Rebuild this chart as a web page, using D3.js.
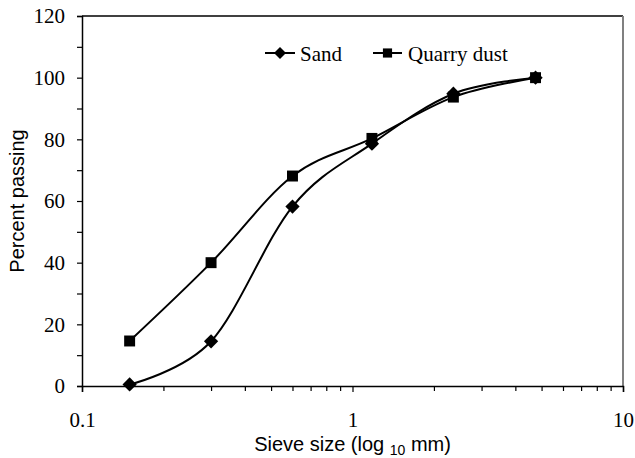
<!DOCTYPE html>
<html>
<head>
<meta charset="utf-8">
<script src="https://cdn.jsdelivr.net/npm/d3@7"></script>
<style>
  html, body { margin: 0; padding: 0; background: #fff; }
  svg { display: block; }
</style>
</head>
<body>
<svg id="chart" width="635" height="458"></svg>
<script>
// Sieve sizes (mm) and percent passing for each material
const sieveSizes = [0.15, 0.3, 0.6, 1.18, 2.36, 4.75];
const sandPassing = [0.5, 14.5, 58.2, 78.6, 94.8, 100];
const quarryDustPassing = [14.6, 40, 68.1, 80.3, 93.7, 100];
const seriesNames = ["Sand", "Quarry dust"];
const yTicks = [0, 20, 40, 60, 80, 100, 120];
const yMinorTicks = [10, 30, 50, 70, 90, 110];
const xTicks = [0.1, 1, 10];

const svg = d3.select("#chart");
const margin = { left: 82, top: 16, right: 623, bottom: 386 };

const x = d3.scaleLog().domain([0.1, 10]).range([margin.left, margin.right]);
const y = d3.scaleLinear().domain([0, 120]).range([margin.bottom, margin.top]);

const serif = "'Liberation Serif', 'Times New Roman', serif";
const sans = "'Liberation Sans', Arial, sans-serif";

// Plot frame: top edge black, right edge grey
svg.append("line")
  .attr("x1", x(0.1)).attr("x2", x(10))
  .attr("y1", y(120)).attr("y2", y(120))
  .attr("stroke", "#000").attr("stroke-width", 1.5);
svg.append("line")
  .attr("x1", x(10)).attr("x2", x(10))
  .attr("y1", y(120)).attr("y2", y(0))
  .attr("stroke", "#808080").attr("stroke-width", 2);

// Y axis
const yAxis = svg.append("g").attr("transform", `translate(${margin.left},0)`);
yAxis.call(d3.axisLeft(y).tickValues(yTicks).tickSize(5).tickPadding(12).tickFormat(d3.format("d")));
yAxis.append("g").call(d3.axisLeft(y).tickValues(yMinorTicks).tickSize(5).tickFormat(""));
yAxis.selectAll("path.domain").attr("stroke-width", 1.5);
yAxis.selectAll("g > g > path.domain").remove();
yAxis.selectAll("line").attr("stroke-width", 1.2);
yAxis.selectAll("text")
  .attr("font-family", serif).attr("font-size", 21).attr("fill", "#000");

// X axis (log) with minor ticks at each decade subdivision
const xMinor = [];
[0.1, 1].forEach(d => { for (let k = 2; k <= 9; k++) xMinor.push(+(d * k).toFixed(2)); });
const xAxis = svg.append("g").attr("transform", `translate(0,${margin.bottom})`);
xAxis.call(d3.axisBottom(x).tickValues(xTicks).tickSize(6).tickPadding(20).tickFormat(d => String(d)));
xAxis.append("g").call(d3.axisBottom(x).tickValues(xMinor).tickSize(5).tickFormat(""));
xAxis.selectAll("path.domain").attr("stroke-width", 1.5);
xAxis.selectAll("g > g > path.domain").remove();
xAxis.selectAll("line").attr("stroke-width", 1.2);
xAxis.selectAll("text")
  .attr("font-family", serif).attr("font-size", 21).attr("fill", "#000");

// Axis titles
svg.append("text")
  .attr("transform", `translate(24,${(margin.top + margin.bottom) / 2}) rotate(-90)`)
  .attr("text-anchor", "middle")
  .attr("font-family", sans).attr("font-size", 20)
  .text("Percent passing");

const xTitle = svg.append("text")
  .attr("x", (margin.left + margin.right) / 2).attr("y", 451)
  .attr("text-anchor", "middle")
  .attr("font-family", sans).attr("font-size", 20);
xTitle.append("tspan").text("Sieve size (log ");
xTitle.append("tspan").attr("font-size", 14).attr("dy", 4).text("10");
xTitle.append("tspan").attr("dy", -4).text(" mm)");

// Series lines (smoothed) and markers
const line = d3.line()
  .x(d => x(d[0])).y(d => y(d[1]))
  .curve(d3.curveCatmullRom.alpha(0));

const series = [
  { name: seriesNames[0], values: sandPassing, marker: d3.symbolDiamond2, size: 130 },
  { name: seriesNames[1], values: quarryDustPassing, marker: d3.symbolSquare, size: 120 }
];

const plot = svg.append("g");
series.forEach(s => {
  const pts = sieveSizes.map((d, i) => [d, s.values[i]]);
  plot.append("path")
    .datum(pts)
    .attr("d", line)
    .attr("fill", "none").attr("stroke", "#000").attr("stroke-width", 2);
  plot.selectAll(null)
    .data(pts).enter().append("path")
    .attr("transform", d => `translate(${x(d[0])},${y(d[1])})`)
    .attr("d", d3.symbol().type(s.marker).size(s.size))
    .attr("fill", "#000");
});

// Legend
const legendItems = [
  { s: series[0], x0: 265, x1: 295, tx: 300 },
  { s: series[1], x0: 373, x1: 402, tx: 408 }
];
const legendY = 53;
legendItems.forEach(it => {
  svg.append("line")
    .attr("x1", it.x0).attr("x2", it.x1)
    .attr("y1", legendY).attr("y2", legendY)
    .attr("stroke", "#000").attr("stroke-width", 2);
  svg.append("path")
    .attr("transform", `translate(${(it.x0 + it.x1) / 2},${legendY})`)
    .attr("d", d3.symbol().type(it.s.marker).size(it.s.size * 0.7))
    .attr("fill", "#000");
  svg.append("text")
    .attr("x", it.tx).attr("y", legendY + 8)
    .attr("font-family", serif).attr("font-size", 21)
    .text(it.s.name);
});
</script>
</body>
</html>
